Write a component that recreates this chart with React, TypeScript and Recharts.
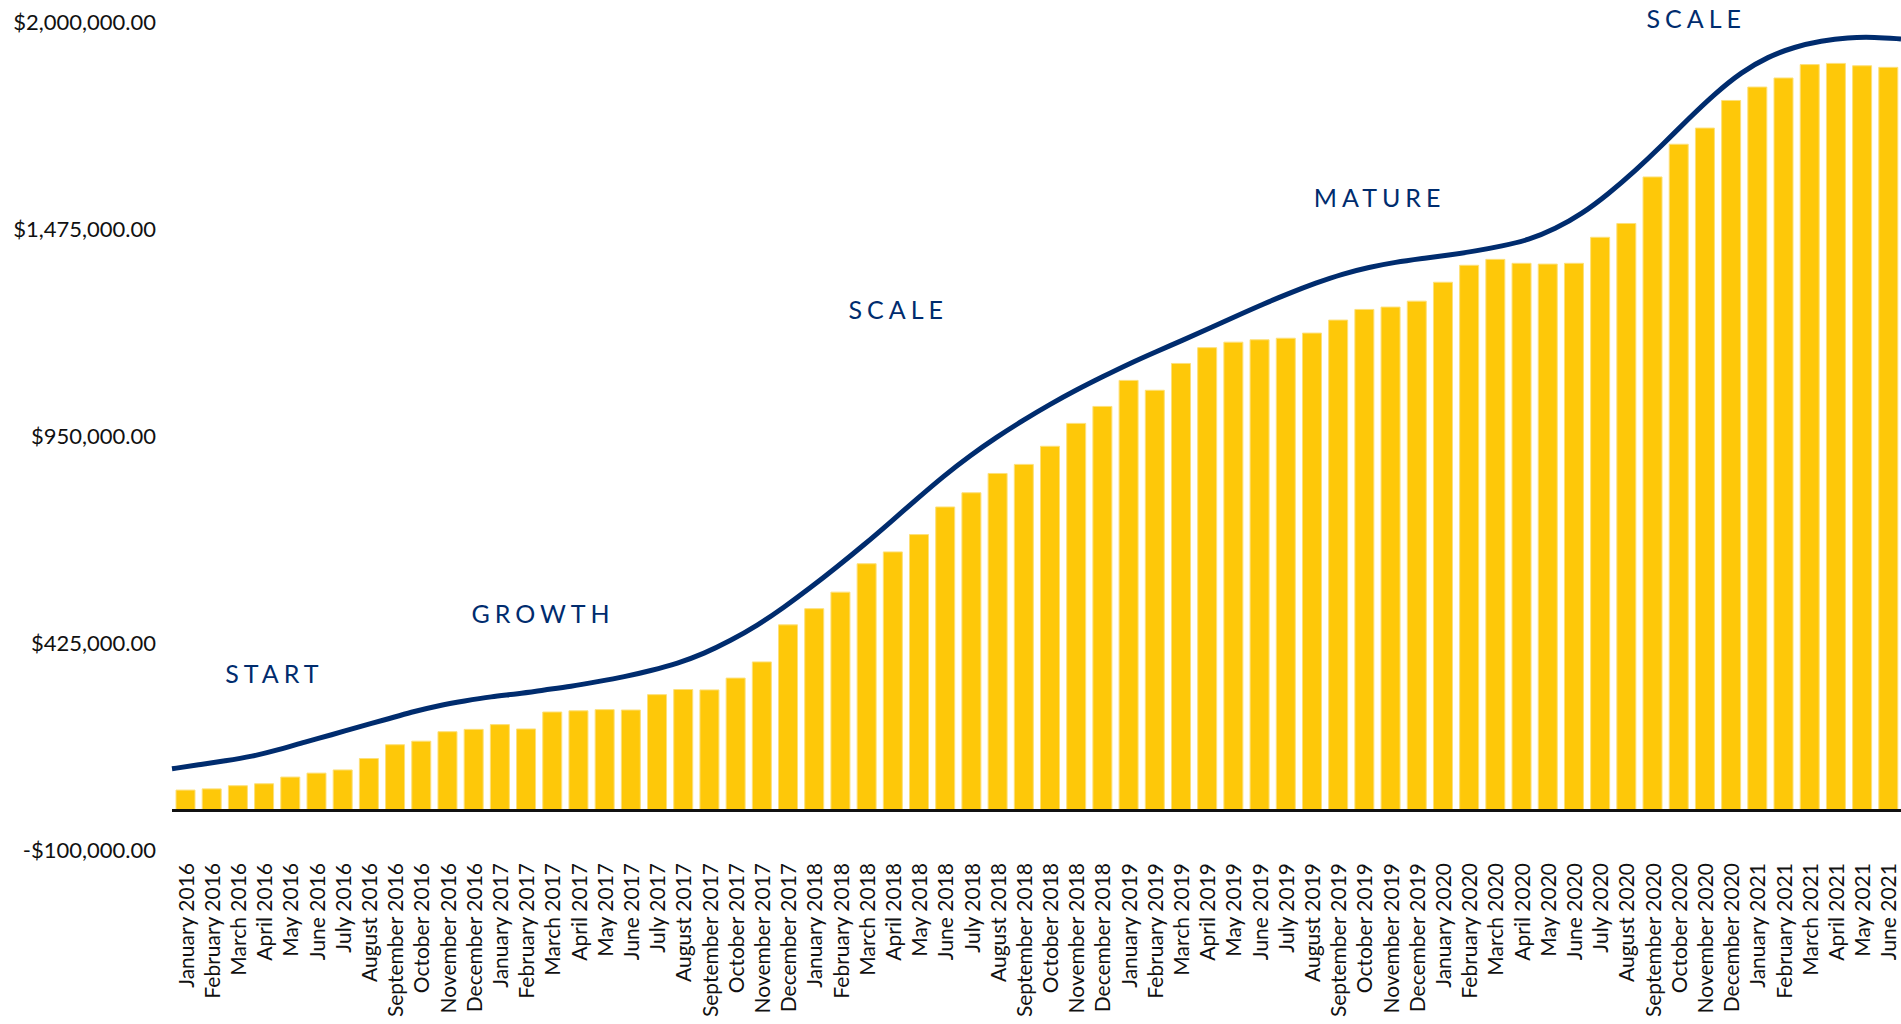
import { ComposedChart, Bar, Line, XAxis, YAxis, ReferenceLine, ReferenceDot } from 'recharts'

const months = [
  'January 2016', 'February 2016', 'March 2016', 'April 2016', 'May 2016', 'June 2016',
  'July 2016', 'August 2016', 'September 2016', 'October 2016', 'November 2016', 'December 2016',
  'January 2017', 'February 2017', 'March 2017', 'April 2017', 'May 2017', 'June 2017',
  'July 2017', 'August 2017', 'September 2017', 'October 2017', 'November 2017', 'December 2017',
  'January 2018', 'February 2018', 'March 2018', 'April 2018', 'May 2018', 'June 2018',
  'July 2018', 'August 2018', 'September 2018', 'October 2018', 'November 2018', 'December 2018',
  'January 2019', 'February 2019', 'March 2019', 'April 2019', 'May 2019', 'June 2019',
  'July 2019', 'August 2019', 'September 2019', 'October 2019', 'November 2019', 'December 2019',
  'January 2020', 'February 2020', 'March 2020', 'April 2020', 'May 2020', 'June 2020',
  'July 2020', 'August 2020', 'September 2020', 'October 2020', 'November 2020', 'December 2020',
  'January 2021', 'February 2021', 'March 2021', 'April 2021', 'May 2021', 'June 2021',
]

// monthly revenue (bars)
const revenue = [
  52000, 55000, 63000, 68000, 85000, 95000, 103000, 132000, 167000, 176000, 200000, 206000,
  218000, 207000, 250000, 253000, 256000, 255000, 294000, 307000, 306000, 336000, 377000, 471000,
  512000, 554000, 626000, 656000, 700000, 770000, 806000, 855000, 878000, 924000, 982000, 1025000,
  1091000, 1066000, 1134000, 1174000, 1188000, 1194000, 1198000, 1211000, 1244000, 1271000, 1277000, 1292000,
  1340000, 1383000, 1398000, 1388000, 1386000, 1388000, 1454000, 1489000, 1607000, 1690000, 1731000, 1801000,
  1835000, 1858000, 1892000, 1895000, 1889000, 1885000,
]

// smooth trend curve, runs edge to edge of the plot
const trend = [
  106000, 116000, 126000, 137000, 154000, 174000, 192000, 212000, 230000, 250000, 266000, 278000,
  289000, 296000, 306000, 315000, 327000, 339000, 355000, 373000, 398000, 431000, 469000, 515000,
  565000, 618000, 673000, 731000, 790000, 848000, 900000, 947000, 990000, 1030000, 1067000, 1101000,
  1134000, 1164000, 1193000, 1223000, 1254000, 1284000, 1312000, 1338000, 1361000, 1378000, 1391000, 1400000,
  1409000, 1419000, 1432000, 1447000, 1475000, 1513000, 1564000, 1622000, 1686000, 1754000, 1818000, 1873000,
  1912000, 1937000, 1952000, 1961000, 1962000, 1957000,
]

const yTicks = [-100000, 425000, 950000, 1475000, 2000000]

const stages = [
  { text: 'START', at: 3.85, value: 324000 },
  { text: 'GROWTH', at: 13.95, value: 476000 },
  { text: 'SCALE', at: 27.3, value: 1246000 },
  { text: 'MATURE', at: 45.4, value: 1531000 },
  { text: 'SCALE', at: 57.3, value: 1985000 },
]

const data = months.map((month, i) => ({ month, idx: i, revenue: revenue[i], trend: trend[i] }))

const FONT = 'Lato, "Open Sans", sans-serif'
const NAVY = '#002c6e'

const money = (v: number) => {
  const s = '$' + Math.abs(v).toLocaleString('en-US', { minimumFractionDigits: 2, maximumFractionDigits: 2 })
  return v < 0 ? '-' + s : s
}

function MonthTick({ x, y, payload }: any) {
  return (
    <g transform={`translate(${x},${y})`}>
      <text
        transform="rotate(-90)"
        textAnchor="end"
        dominantBaseline="central"
        fontSize={21}
        fontFamily={FONT}
        fill="#111"
      >
        {payload.value}
      </text>
    </g>
  )
}

function App() {
  return (
    <div style={{ position: 'absolute', left: 0, top: 0, width: 1901, height: 1024, background: '#fff' }}>
      <ComposedChart width={1901} height={1024} data={data} margin={{ top: 22, right: 0, left: 0, bottom: 0 }}>
        <XAxis
          xAxisId="cat"
          dataKey="month"
          interval={0}
          axisLine={false}
          tickLine={false}
          tickSize={0}
          tickMargin={13}
          height={174}
          tick={<MonthTick />}
        />
        <XAxis xAxisId="num" dataKey="idx" type="number" domain={[0, 65]} hide />
        <YAxis
          domain={[-100000, 2000000]}
          ticks={yTicks}
          interval={0}
          width={172}
          axisLine={false}
          tickLine={false}
          tickSize={0}
          tickMargin={16}
          tickFormatter={money}
          tick={{ fontSize: 22, fontFamily: FONT, fill: '#111' }}
        />
        <Bar
          xAxisId="cat"
          dataKey="revenue"
          fill="#fec809"
          stroke="#fde07a"
          strokeWidth={1}
          barSize={19}
          isAnimationActive={false}
        />
        <ReferenceLine xAxisId="cat" y={0} stroke="#111" strokeWidth={3} />
        <Line
          xAxisId="num"
          dataKey="trend"
          type="basis"
          stroke={NAVY}
          strokeWidth={5}
          dot={false}
          activeDot={false}
          isAnimationActive={false}
        />
        {stages.map((s, i) => (
          <ReferenceDot
            key={i}
            xAxisId="num"
            x={s.at}
            y={s.value}
            r={0}
            shape={(p: any) => (
              <text
                x={p.cx}
                y={p.cy}
                textAnchor="middle"
                fontSize={25}
                fontFamily={FONT}
                letterSpacing={5}
                fill={NAVY}
              >
                {s.text}
              </text>
            )}
          />
        ))}
      </ComposedChart>
    </div>
  )
}

export default App
